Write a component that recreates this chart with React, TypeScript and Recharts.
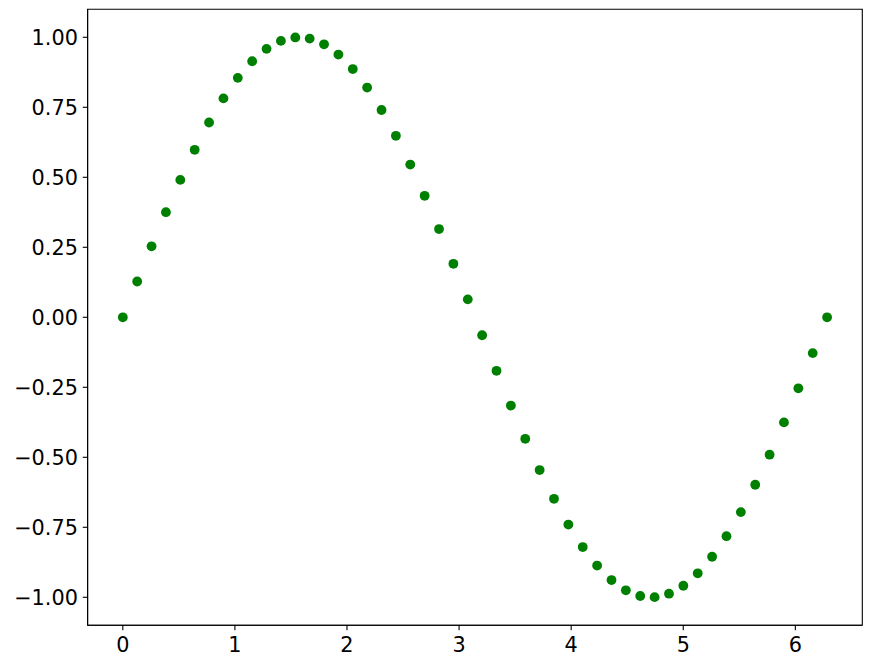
import React from "react";
import { ScatterChart, Scatter, XAxis, YAxis, ReferenceArea } from "recharts";

const xValues = [
  0, 0.12823, 0.25646, 0.38468, 0.51291, 0.64114, 0.76937, 0.8976, 1.02583, 1.15405,
  1.28228, 1.41051, 1.53874, 1.66697, 1.7952, 1.92342, 2.05165, 2.17988, 2.30811, 2.43634,
  2.56457, 2.69279, 2.82102, 2.94925, 3.07748, 3.20571, 3.33394, 3.46216, 3.59039, 3.71862,
  3.84685, 3.97508, 4.10331, 4.23153, 4.35976, 4.48799, 4.61622, 4.74445, 4.87267, 5.0009,
  5.12913, 5.25736, 5.38559, 5.51382, 5.64204, 5.77027, 5.8985, 6.02673, 6.15496, 6.28319,
];

const yValues = [
  0, 0.12788, 0.25365, 0.37527, 0.49072, 0.59811, 0.69568, 0.78183, 0.85514, 0.91441,
  0.95867, 0.98718, 0.99949, 0.99537, 0.97492, 0.93847, 0.8866, 0.82052, 0.74028, 0.64823,
  0.54553, 0.43388, 0.31511, 0.19116, 0.06407, -0.06407, -0.19116, -0.31511, -0.43388, -0.54553,
  -0.64823, -0.74028, -0.82052, -0.8866, -0.93847, -0.97492, -0.99537, -0.99949, -0.98718, -0.95867,
  -0.91441, -0.85514, -0.78183, -0.69568, -0.59811, -0.49072, -0.37527, -0.25365, -0.12788, 0,
];

const xTicks = [0, 1, 2, 3, 4, 5, 6];
const yTicks = [-1, -0.75, -0.5, -0.25, 0, 0.25, 0.5, 0.75, 1];

const xDomain: [number, number] = [-0.31416, 6.59735];
const yDomain: [number, number] = [-1.1, 1.1];

const data = xValues.map((x, i) => ({ x, y: yValues[i] }));

const fmtY = (v: number) => (v < 0 ? "\u2212" + Math.abs(v).toFixed(2) : v.toFixed(2));

const tickStyle = { fontFamily: "DejaVu Sans", fontSize: 20.8, fill: "#000" };

const Dot = (props: any) => <circle cx={props.cx} cy={props.cy} r={4.9} fill="#008000" />;

export default function App() {
  return (
    <div style={{ position: "absolute", left: 0, top: 0, width: 871, height: 667, background: "#fff" }}>
      <ScatterChart width={871} height={667} margin={{ top: 9.3, right: 8.7, bottom: 0, left: 0 }}>
        <XAxis
          type="number"
          dataKey="x"
          domain={xDomain}
          ticks={xTicks}
          allowDataOverflow
          height={41.7}
          tickSize={4.86}
          tickMargin={7}
          tick={tickStyle}
          axisLine={{ stroke: "#000", strokeWidth: 1.1 }}
          tickLine={{ stroke: "#000", strokeWidth: 1.1 }}
          tickFormatter={(v: number) => String(v)}
        />
        <YAxis
          type="number"
          dataKey="y"
          domain={yDomain}
          ticks={yTicks}
          allowDataOverflow
          width={87.6}
          tickSize={4.86}
          tickMargin={4.86}
          tick={tickStyle}
          axisLine={{ stroke: "#000", strokeWidth: 1.1 }}
          tickLine={{ stroke: "#000", strokeWidth: 1.1 }}
          tickFormatter={fmtY}
        />
        <Scatter data={data} shape={Dot} isAnimationActive={false} />
        <ReferenceArea
          x1={xDomain[0]}
          x2={xDomain[1]}
          y1={yDomain[0]}
          y2={yDomain[1]}
          fill="none"
          stroke="#000"
          strokeWidth={1.1}
          ifOverflow="visible"
        />
      </ScatterChart>
    </div>
  );
}
